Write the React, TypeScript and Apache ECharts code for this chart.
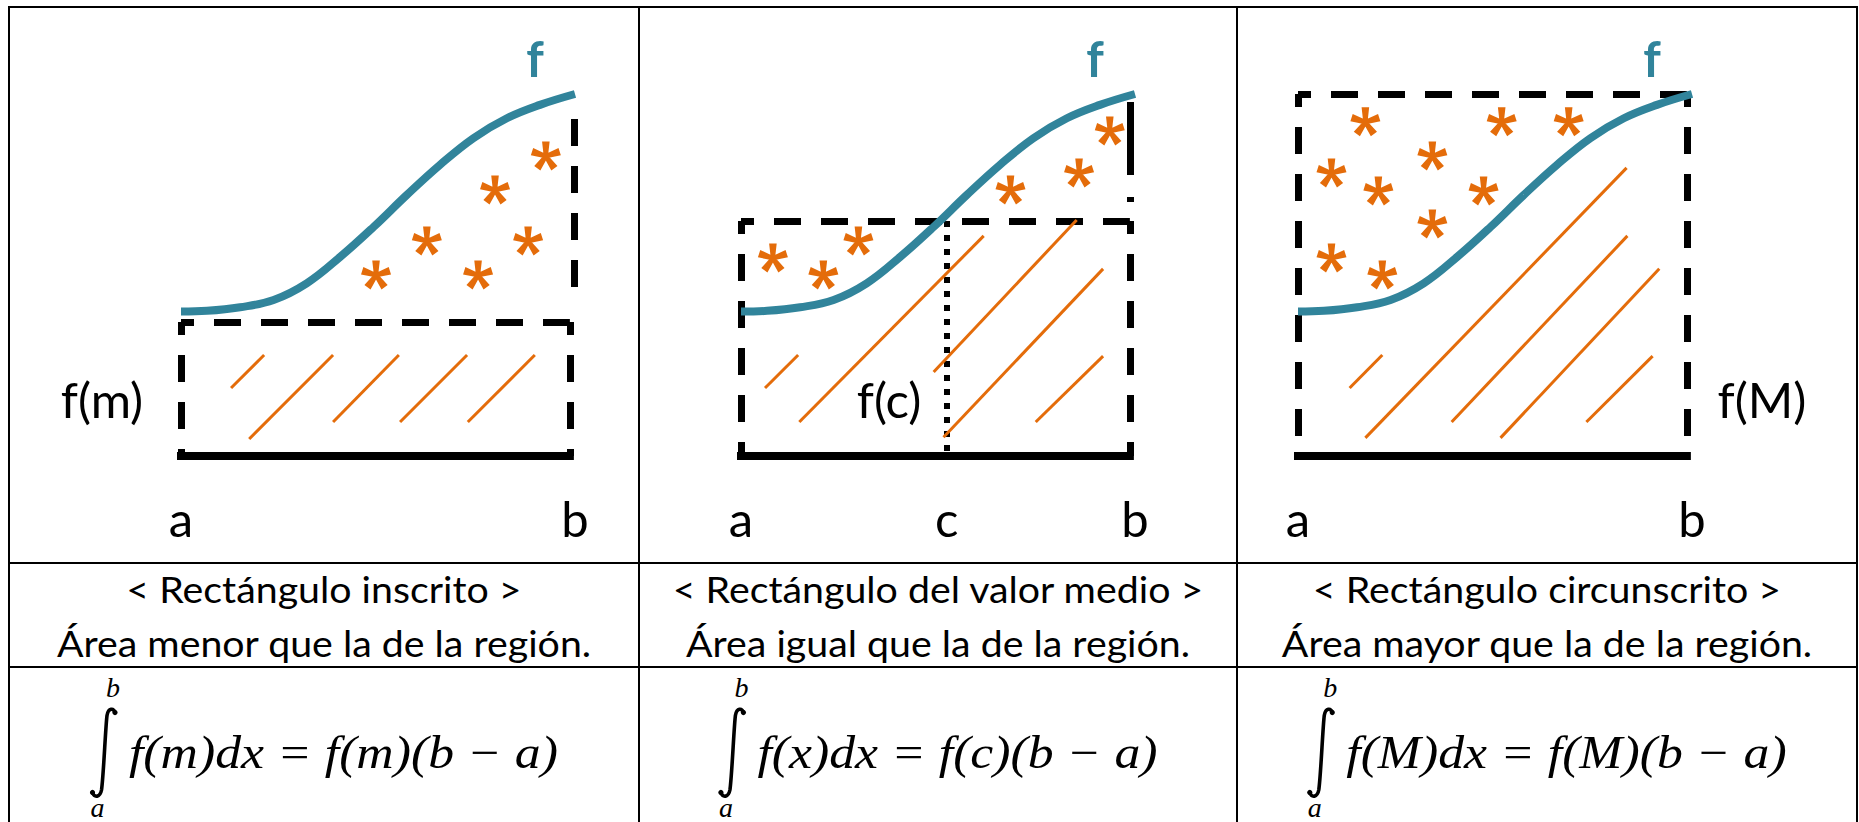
import React, { useEffect, useRef } from 'react';
import * as echarts from 'echarts';

// ---------- data (diagram space: a = 0, b = 10 on x; baseline = 0, f(b) = 10 on y) ----------
const curveX = [0, 0.66, 1.5, 2.35, 3.19, 4.04, 4.89, 5.73, 6.57, 7.42, 8.27, 9.11, 10];
const curveY = [3.99, 4.01, 4.11, 4.31, 4.77, 5.5, 6.33, 7.21, 8.04, 8.78, 9.33, 9.7, 10];

const rectLevels = [3.7, 6.49, 10]; // f(m), f(c), f(M)
const rectRight = 9.87;
const cValue = 5.22;

const tickValues = [[0, 10], [0, 5.22, 10], [0, 10]];
const tickNames = [['a', 'b'], ['a', 'c', 'b'], ['a', 'b']];

const starsX1 = [4.95, 6.24, 7.54, 8.81, 7.97, 9.26];
const starsY1 = [5.0, 5.94, 5.0, 5.94, 7.35, 8.29];
const starsX2 = [0.81, 2.09, 2.98, 6.84, 8.58, 9.36];
const starsY2 = [5.47, 5.0, 5.94, 7.35, 7.82, 8.98];
const starsX3 = [1.71, 5.17, 6.87, 0.85, 2.04, 3.41, 4.71, 3.41, 0.85, 2.14];
const starsY3 = [9.23, 9.23, 9.23, 7.82, 7.32, 8.29, 7.32, 6.41, 5.47, 5.0];

const hatch1 = [[1.27, 1.88, 2.11, 2.79], [1.73, 0.47, 3.86, 2.79], [3.86, 0.94, 5.53, 2.79], [5.56, 0.94, 7.26, 2.79], [7.28, 0.94, 8.98, 2.79]];
const hatch2 = [[0.61, 1.88, 1.45, 2.79], [1.48, 0.94, 6.16, 6.08], [4.89, 2.32, 8.52, 6.52], [5.14, 0.52, 9.19, 5.17], [7.48, 0.94, 9.19, 2.76]];
const hatch3 = [[1.31, 1.88, 2.14, 2.79], [1.71, 0.5, 8.34, 7.96], [3.9, 0.94, 8.36, 6.08], [5.14, 0.5, 9.17, 5.17], [7.32, 0.94, 9.0, 2.76]];

// vertical connectors from f(b) towards the rectangle (panels 1 and 2)
const connectorX = [9.97, 9.87];
const connectorTop = [9.31, 9.78];
const connectorBottom = [4.59, 6.49];

const curveName = 'f';
const sideLabels = ['f(m)', 'f(c)', 'f(M)'];
const titles = ['< Rectángulo inscrito >', '< Rectángulo del valor medio >', '< Rectángulo circunscrito >'];
const notes = ['Área menor que la de la región.', 'Área igual que la de la región.', 'Área mayor que la de la región.'];
const formulas = ['f(m)dx = f(m)(b − a)', 'f(x)dx = f(c)(b − a)', 'f(M)dx = f(M)(b − a)'];

// ---------- layout ----------
const W = 1859;
const H = 822;
const GRID_LEFT = [181, 741, 1298];
const GRID_TOP = 94;
const GRID_W = 394;
const GRID_H = 362;
const COL_X = [9, 639, 1237, 1857];
const ROW_Y = [7, 563, 667];
const SIDE_POS = [[102, 399], [889, 399], [1762, 399]];
const TEAL = '#31849B';
const ORANGE = '#E46C0A';

const INTEGRAL_D = 'M25 5.5 C23.5 1 18.5 0.5 17 8.5 C15.5 20 13.5 70 11.5 83 C10 90.5 4.5 91 2.5 85.5';
echarts.graphic.registerShape('integralSign', echarts.graphic.extendPath(INTEGRAL_D, {}));

function asteriskPath() {
  const parts: string[] = [];
  const cx = 50, cy = 50, L = 48, w0 = 7, w1 = 12.5;
  for (let k = 0; k < 5; k++) {
    const a = ((-90 + 72 * k) * Math.PI) / 180;
    const dx = Math.cos(a), dy = Math.sin(a);
    const px = -dy, py = dx;
    const p = [
      [cx + px * w0, cy + py * w0],
      [cx + dx * L + px * w1, cy + dy * L + py * w1],
      [cx + dx * L - px * w1, cy + dy * L - py * w1],
      [cx - px * w0, cy - py * w0],
    ].map((q) => q[0].toFixed(2) + ' ' + q[1].toFixed(2));
    parts.push('M' + p[0] + ' L' + p[1] + ' L' + p[2] + ' L' + p[3] + ' Z');
  }
  return 'path://' + parts.join(' ');
}
const ASTERISK = asteriskPath();

function measure(text: string, font: string) {
  const ctx = document.createElement('canvas').getContext('2d')!;
  ctx.font = font;
  return ctx.measureText(text).width;
}

function segLines(p: number, segs: number[][], lineStyle: any, z: number) {
  return {
    type: 'lines',
    coordinateSystem: 'cartesian2d',
    xAxisIndex: p,
    yAxisIndex: p,
    polyline: false,
    clip: false,
    silent: true,
    z,
    lineStyle: { opacity: 1, curveness: 0, ...lineStyle },
    data: segs.map((s) => ({ coords: [[s[0], s[1]], [s[2], s[3]]] })),
  };
}

export default function App() {
  const ref = useRef<HTMLDivElement>(null);
  useEffect(() => {
    const chart = echarts.init(ref.current!, null, { renderer: 'svg' });
    const stars = [[starsX1, starsY1], [starsX2, starsY2], [starsX3, starsY3]];
    const hatches = [hatch1, hatch2, hatch3];

    const series: any[] = [];
    for (let p = 0; p < 3; p++) {
      const lv = rectLevels[p];
      const dash = { color: '#000', width: 7, type: [27, 20], dashOffset: 14, cap: 'butt' };
      series.push(segLines(p, [[0, lv, 0, 0], [0, lv, rectRight, lv], [rectRight, lv, rectRight, 0]], dash, 2));
      if (p < 2) {
        series.push(
          segLines(p, [[connectorX[p], connectorTop[p], connectorX[p], connectorBottom[p]]],
            { color: '#000', width: 7, type: p === 0 ? [27, 20] : [73, 22, 5, 30], cap: 'butt' }, 2)
        );
      }
      if (p === 1) {
        series.push(segLines(p, [[cValue, rectLevels[1], cValue, 0]], { color: '#000', width: 6, type: [6, 8], cap: 'butt' }, 2));
      }
      series.push(segLines(p, [[0, 0, rectRight, 0]], { color: '#000', width: 8, cap: 'square' }, 3));
      series.push(segLines(p, hatches[p], { color: ORANGE, width: 3, cap: 'butt' }, 3));
      series.push({
        type: 'line',
        xAxisIndex: p,
        yAxisIndex: p,
        smooth: 0.4,
        symbol: 'none',
        clip: false,
        silent: true,
        z: 4,
        lineStyle: { color: TEAL, width: 8, cap: 'butt' },
        data: curveX.map((x, i) => [x, curveY[i]]),
      });
      series.push({
        type: 'scatter',
        xAxisIndex: p,
        yAxisIndex: p,
        symbol: ASTERISK,
        symbolSize: [30, 29],
        clip: false,
        silent: true,
        z: 5,
        itemStyle: { color: ORANGE, opacity: 1 },
        data: stars[p][0].map((x, i) => [x, stars[p][1][i]]),
      });
    }

    const grid = GRID_LEFT.map((l) => ({ left: l, top: GRID_TOP, width: GRID_W, height: GRID_H }));
    const xAxis = GRID_LEFT.map((_, p) => ({
      type: 'value',
      gridIndex: p,
      min: 0,
      max: 10,
      axisLine: { show: false },
      axisTick: { show: false },
      splitLine: { show: false },
      axisLabel: {
        show: true,
        customValues: tickValues[p],
        margin: 37,
        fontFamily: 'Lato',
        fontSize: 49,
        color: '#000',
        formatter: (v: number) => {
          const i = tickValues[p].findIndex((t) => Math.abs(t - v) < 1e-6);
          return i >= 0 ? tickNames[p][i] : '';
        },
      },
    }));
    const yAxis = GRID_LEFT.map((_, p) => ({ type: 'value', gridIndex: p, min: 0, max: 10, show: false }));

    const graphic: any[] = [];
    ROW_Y.forEach((y) =>
      graphic.push({ type: 'line', silent: true, shape: { x1: 8, y1: y, x2: 1858, y2: y }, style: { stroke: '#000', lineWidth: 2 } })
    );
    COL_X.forEach((x) =>
      graphic.push({ type: 'line', silent: true, shape: { x1: x, y1: 6, x2: x, y2: H + 10 }, style: { stroke: '#000', lineWidth: 2 } })
    );

    for (let p = 0; p < 3; p++) {
      const bx = GRID_LEFT[p] + GRID_W;
      graphic.push({
        type: 'text', x: bx - 40, y: 58, silent: true,
        style: { text: curveName, fontFamily: 'Lato', fontWeight: 'bold', fontSize: 49, fill: TEAL, align: 'center', verticalAlign: 'middle' },
      });
      graphic.push({
        type: 'text', x: SIDE_POS[p][0], y: SIDE_POS[p][1], silent: true,
        style: { text: sideLabels[p], fontFamily: 'Lato', fontSize: 49, fill: '#000', align: 'center', verticalAlign: 'middle' },
      });
    }

    // row 2 texts
    const rowFont = '36px Lato';
    const rowScale = 535 / measure(notes[0], rowFont);
    for (let p = 0; p < 3; p++) {
      const cx = (COL_X[p] + COL_X[p + 1]) / 2;
      [titles[p], notes[p]].forEach((t, k) =>
        graphic.push({
          type: 'text', x: cx, y: k === 0 ? 589 : 643, scaleX: rowScale, silent: true,
          style: { text: t, fontFamily: 'Lato', fontSize: 36, fill: '#000', align: 'center', verticalAlign: 'middle' },
        })
      );
    }

    // row 3 formulas
    const fFont = 'italic 46px "Liberation Serif"';
    const fScale = 429 / measure(formulas[0], fFont);
    for (let p = 0; p < 3; p++) {
      const cx = (COL_X[p] + COL_X[p + 1]) / 2;
      const tw = measure(formulas[p], fFont) * fScale;
      const total = 27 + 12 + tw;
      const left = cx - total / 2;
      graphic.push({ type: 'integralSign', x: left, y: 707, silent: true, style: { fill: 'none', stroke: '#000', lineWidth: 3.6 } });
      graphic.push({ type: 'circle', silent: true, shape: { cx: left + 25, cy: 5.5 + 707, r: 2.6 }, style: { fill: '#000' } });
      graphic.push({ type: 'circle', silent: true, shape: { cx: left + 2.5, cy: 85.5 + 707, r: 2.6 }, style: { fill: '#000' } });
      graphic.push({
        type: 'text', x: left + 39, y: 752, scaleX: fScale, silent: true,
        style: { text: formulas[p], fontFamily: 'Liberation Serif', fontStyle: 'italic', fontSize: 46, fill: '#000', align: 'left', verticalAlign: 'middle' },
      });
      graphic.push({
        type: 'text', x: left + 23, y: 687, silent: true,
        style: { text: 'b', fontFamily: 'Liberation Serif', fontStyle: 'italic', fontSize: 28, fill: '#000', align: 'center', verticalAlign: 'middle' },
      });
      graphic.push({
        type: 'text', x: left + 7.5, y: 807, silent: true,
        style: { text: 'a', fontFamily: 'Liberation Serif', fontStyle: 'italic', fontSize: 28, fill: '#000', align: 'center', verticalAlign: 'middle' },
      });
    }

    chart.setOption({
      animation: false,
      backgroundColor: '#fff',
      grid,
      xAxis,
      yAxis,
      series,
      graphic,
    });
    return () => chart.dispose();
  }, []);

  return (
    <div
      ref={ref}
      style={{ position: 'absolute', left: 0, top: 0, width: W, height: H, background: '#fff' }}
    />
  );
}
